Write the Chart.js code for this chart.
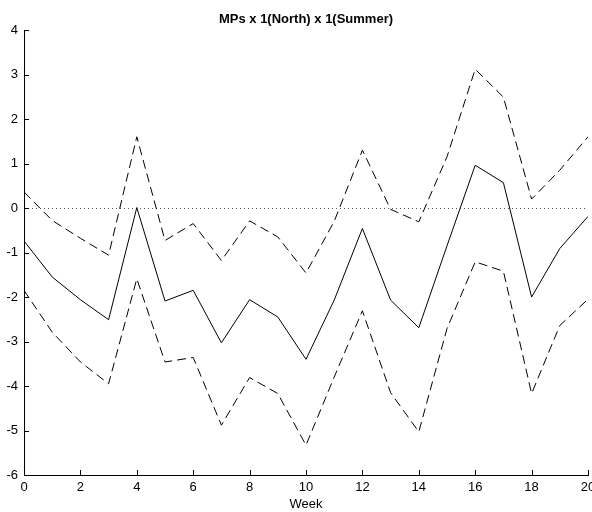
<!DOCTYPE html>
<html>
<head>
<meta charset="utf-8">
<script src="https://cdn.jsdelivr.net/npm/chart.js@4"></script>
<style>
  html, body { margin: 0; padding: 0; background: #fff; }
</style>
</head>
<body>
<canvas id="myChart" width="592" height="512"></canvas>
<script>
// data
const weeks = [0, 1, 2, 3, 4, 5, 6, 7, 8, 9, 10, 11, 12, 13, 14, 15, 16, 17, 18, 19, 20];
const mean = [-0.74, -1.55, -2.06, -2.51, 0.01, -2.09, -1.85, -3.03, -2.06, -2.45, -3.40,
              -2.07, -0.46, -2.07, -2.69, -0.85, 0.96, 0.57, -2.00, -0.91, -0.19];
const upper = [0.36, -0.28, -0.68, -1.06, 1.60, -0.73, -0.35, -1.18, -0.29, -0.65, -1.46,
               -0.30, 1.30, -0.03, -0.31, 1.15, 3.12, 2.49, 0.20, 0.85, 1.60];
const lower = [-1.85, -2.79, -3.46, -3.95, -1.59, -3.46, -3.36, -4.88, -3.81, -4.17, -5.33,
               -3.80, -2.31, -4.15, -5.03, -2.71, -1.21, -1.42, -4.17, -2.64, -2.05];
const xTicks = [0, 2, 4, 6, 8, 10, 12, 14, 16, 18, 20];
const yTicks = [-6, -5, -4, -3, -2, -1, 0, 1, 2, 3, 4];

const FONT = "'Liberation Sans', Arial, Helvetica, sans-serif";

const toPoints = function (ys) {
    return weeks.map((w, i) => ({ x: w, y: ys[i] }));
};

// dotted zero line + inward tick marks
const extras = {
    id: 'extras',
    beforeDatasetsDraw(chart) {
        const { ctx, chartArea, scales } = chart;
        const y0 = Math.round(scales.y.getPixelForValue(0)) + 0.5;
        ctx.save();
        ctx.strokeStyle = '#555';
        ctx.lineWidth = 1;
        ctx.setLineDash([1, 3]);
        ctx.beginPath();
        ctx.moveTo(chartArea.left, y0);
        ctx.lineTo(chartArea.right, y0);
        ctx.stroke();
        ctx.restore();
    },
    afterDraw(chart) {
        const { ctx, chartArea, scales } = chart;
        ctx.save();
        ctx.strokeStyle = '#000';
        ctx.lineWidth = 1;
        ctx.beginPath();
        xTicks.forEach(v => {
            const px = Math.round(scales.x.getPixelForValue(v)) + 0.5;
            ctx.moveTo(px, chartArea.bottom);
            ctx.lineTo(px, chartArea.bottom - 5);
        });
        yTicks.forEach(v => {
            const py = Math.round(scales.y.getPixelForValue(v)) + 0.5;
            ctx.moveTo(chartArea.left, py);
            ctx.lineTo(chartArea.left + 5, py);
        });
        ctx.stroke();
        ctx.restore();
    }
};

const lineSet = function (label, ys, dash) {
    return {
        label: label,
        data: toPoints(ys),
        borderColor: '#000',
        borderWidth: 1,
        borderDash: dash,
        pointRadius: 0,
        fill: false,
        tension: 0
    };
};

const myChart = new Chart(document.getElementById('myChart'), {
    type: 'line',
    data: {
        datasets: [
            lineSet('Upper', upper, [9, 5]),
            lineSet('Mean', mean, []),
            lineSet('Lower', lower, [9, 5])
        ]
    },
    options: {
        responsive: false,
        animation: false,
        layout: { padding: { left: 0, right: 4, top: 0, bottom: 0 } },
        plugins: {
            legend: { display: false },
            tooltip: { enabled: false },
            title: {
                display: true,
                fullSize: false,
                text: 'MPs x 1(North) x 1(Summer)',
                color: '#000',
                font: { family: FONT, size: 13, weight: 'bold', lineHeight: 1.2 },
                padding: { top: 11.7, bottom: 2.7 }
            }
        },
        scales: {
            x: {
                type: 'linear',
                min: 0,
                max: 20,
                grid: { display: false, drawTicks: false },
                border: { display: true, color: '#000', width: 1 },
                ticks: {
                    stepSize: 2,
                    maxRotation: 0,
                    padding: 5,
                    color: '#000',
                    font: { family: FONT, size: 13 }
                },
                title: {
                    display: true,
                    text: 'Week',
                    color: '#000',
                    font: { family: FONT, size: 13, lineHeight: 1.2 },
                    padding: { top: 0, bottom: 0 }
                },
                afterFit(scale) {
                    scale.height = 37;
                    scale.paddingLeft = 0;
                    scale.paddingRight = 0;
                }
            },
            y: {
                min: -6,
                max: 4,
                grid: { display: false, drawTicks: false },
                border: { display: true, color: '#000', width: 1 },
                ticks: {
                    stepSize: 1,
                    padding: 6,
                    color: '#000',
                    font: { family: FONT, size: 13 }
                },
                afterFit(scale) {
                    scale.width = 24;
                    scale.paddingTop = 0;
                    scale.paddingBottom = 0;
                }
            }
        }
    },
    plugins: [extras]
});
</script>
</body>
</html>
